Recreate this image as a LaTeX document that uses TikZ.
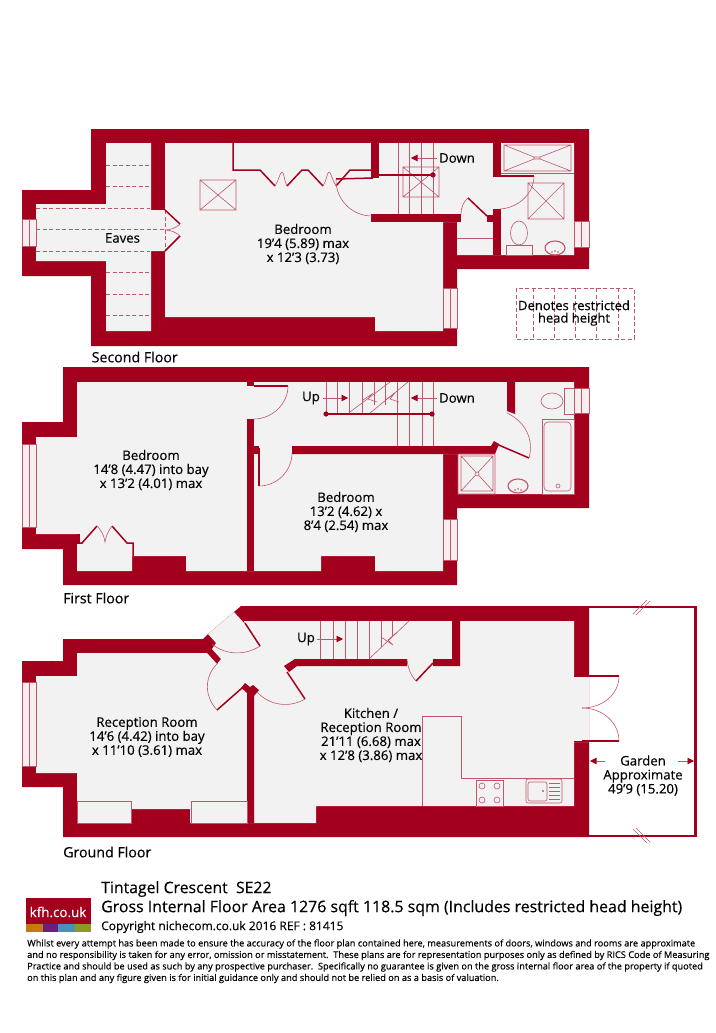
\documentclass[tikz,border=0pt]{standalone}
\usepackage{fontspec}
\setmainfont{Open Sans}[FakeBold=0.3]
\definecolor{wallred}{HTML}{A3001E}
\definecolor{floorgrey}{HTML}{F3F2F2}
\definecolor{fitpink}{HTML}{C0566C}
\definecolor{glasspink}{HTML}{F8EEF0}
\definecolor{bandorange}{HTML}{C8780E}
\definecolor{bandpurple}{HTML}{6B1F7A}
\definecolor{bandblue}{HTML}{4A90B8}
\definecolor{bandolive}{HTML}{8C9A20}
\tikzset{
  wall/.style={fill=wallred, draw=none},
  floorarea/.style={fill=floorgrey, draw=none},
  fitting/.style={draw=fitpink, line width=0.6pt},
  doorleaf/.style={draw=wallred, line width=1.5pt},
  windowpane/.style={fill=glasspink, draw=fitpink, line width=0.5pt},
  eavesline/.style={draw=fitpink, line width=0.7pt, dash pattern=on 4pt off 2.5pt},
  rail/.style={draw=wallred, line width=2.2pt},
  walkarrow/.style={draw=fitpink, line width=0.6pt, -{Triangle[wallred,length=6.5pt,width=6.5pt]}},
  roomtext/.style={font=\fontsize{13.2}{14}\selectfont, text=black, align=center, inner sep=0pt},
  floortext/.style={font=\fontsize{14.2}{16}\selectfont, text=black, anchor=west, inner sep=0pt},
  headtext/.style={anchor=west, inner sep=0pt, text=black},
  smallprint/.style={font=\fontsize{9.22}{11}\selectfont, text=black, anchor=west, inner sep=0pt}
}
\usetikzlibrary{arrows.meta}
\begin{document}
\begin{tikzpicture}[x=1pt,y=-1pt]
\useasboundingbox (0,0) rectangle (715,1033);
\fill[white] (0,0) rectangle (715,1033);
\fill[wall] (91,129) -- (589,129) -- (589,269) -- (457,269) -- (457,346) -- (91,346) -- (91,276) -- (22,276) -- (22,190) -- (91,190) -- cycle;
\fill[floorarea] (36,204) -- (106,204) -- (106,143) -- (151,143) -- (151,210) -- (165,210) -- (165,251) -- (151,251) -- (151,331) -- (106,331) -- (106,261) -- (36,261) -- cycle;
\fill[floorarea] (165,143) -- (574,143) -- (574,255) -- (457,255) -- (457,222) -- (443,222) -- (443,331) -- (375,331) -- (375,317) -- (165,317) -- cycle;
\fill[wall] (371,143) rectangle (379,178);
\fill[wall] (493,143) rectangle (501,176);
\fill[wall] (493,209) rectangle (501,255);
\fill[wall] (371,214) rectangle (461,222);
\fill[wall] (487,215) rectangle (493,222);
\fill[windowpane] (22,219) rectangle (36,246);
\draw[fitting] (29,219) -- (29,246);
\fill[windowpane] (574,221) rectangle (589,247);
\draw[fitting] (581,221) -- (581,247);
\fill[windowpane] (443,288) rectangle (457,328);
\draw[fitting] (450,288) -- (450,328);
\foreach \yy in {165,186,272,294,315} \draw[eavesline] (106,\yy) -- (150,\yy);
\foreach \yy in {208,251} \draw[eavesline] (36,\yy) -- (150,\yy);
\draw[eavesline] (36,229) -- (165,229);
\draw[eavesline] (165,210) -- (165,251);
\draw[doorleaf] (165,210) -- (180,224);
\draw[doorleaf] (165,251) -- (180,236);
\draw[fitting] (180,224) .. controls (176,228) and (170,230) .. (165,230);
\draw[fitting] (180,236) .. controls (176,232) and (170,230) .. (165,230);
\draw[fitting] (200,180) rectangle (236,210) (200,180) -- (236,210) (200,210) -- (236,180);
\draw[doorleaf] (233,143) -- (233,170) -- (260,170) -- (275,186);
\draw[doorleaf] (287,186) -- (302,170) -- (308,170) -- (323,186);
\draw[doorleaf] (336,186) -- (350,170) -- (371,170);
\draw[fitting] (275,186) .. controls (279,180) and (280,172) .. (282,172) .. controls (284,172) and (284,180) .. (287,186);
\draw[fitting] (323,186) .. controls (327,180) and (327,172) .. (329,172) .. controls (331,172) and (332,180) .. (336,186);
\draw[doorleaf] (336,179) -- (373,178);
\draw[fitting] (336,180) arc[start angle=180,end angle=90,radius=36];
\foreach \xx in {398,409,421,433} \draw[fitting] (\xx,143) -- (\xx,214);
\draw[fitting] (403,167) rectangle (439,197) (403,167) -- (439,197) (403,197) -- (439,167);
\draw[rail] (371,175) -- (433,175);
\fill[wallred] (433,175) circle (2.6);
\draw[walkarrow] (437,158) -- (411,158);
\draw[doorleaf] (493,176) -- (534,176);
\draw[fitting] (534,176) .. controls (534,194) and (518,208) .. (500,209);
\draw[doorleaf] (487,216) -- (468,198);
\draw[fitting] (468,198) .. controls (464,201) and (461,207) .. (461,214);
\draw[fitting] (457,238) -- (493,238);
\draw[fitting] (504,145) rectangle (571,171) (504,145) -- (534,157) (504,171) -- (534,159) (571,145) -- (540,157) (571,171) -- (540,159) (534,157) rectangle (540,159);
\draw[fitting] (501,173) -- (574,173);
\draw[fitting] (528,183) rectangle (564,219) (528,183) -- (564,219) (528,219) -- (564,183);
\draw[fitting] (519,233) ellipse (8.5 and 12);
\draw[fitting, fill=floorgrey] (506,245) rectangle (532,255);
\begin{scope}
\clip (540,235) rectangle (572,255);
\draw[draw=fitpink, line width=1.1pt] (555,248) ellipse (10 and 7);
\end{scope}
\fill[fitpink] (552,252) circle (0.8) (555,251) circle (0.8) (558,252) circle (0.8);
\node[roomtext] (EavesText) at (122.5,238) {Eaves};
\node[roomtext] (BedroomTop) at (303,244) {Bedroom\\19'4 (5.89) max\\x 12'3 (3.73)};
\node[roomtext] (DownTop) at (457,158) {Down};
\node[floortext] (SecondFloor) at (91.5,357) {Second Floor};
\draw[eavesline] (516,288) rectangle (634,339);
\foreach \xx in {533,554,575,596,618} \draw[eavesline] (\xx,288) -- (\xx,339);
\node[roomtext, font=\fontsize{13}{12.5}\selectfont] (RestrictedText) at (574,313) {Denotes restricted\\head height};
\fill[wall] (63,367) -- (589,367) -- (589,508) -- (457,508) -- (457,585) -- (63,585) -- (63,549) -- (22,549) -- (22,422) -- (63,422) -- cycle;
\fill[floorarea] (36,437) -- (77,437) -- (77,382) -- (574,382) -- (574,494) -- (458,494) -- (458,454) -- (443,454) -- (443,571) -- (375,571) -- (375,556) -- (321,556) -- (321,571) -- (186,571) -- (186,556) -- (132,556) -- (132,571) -- (77,571) -- (77,534) -- (36,534) -- cycle;
\fill[wall] (247,419) rectangle (254,571);
\fill[wall] (247,382) rectangle (254,386);
\fill[wall] (247,446) rectangle (259,454);
\fill[wall] (292,446) -- (491,446) -- (494,441) -- (499,444) -- (495,454) -- (292,454) -- cycle;
\fill[wall] (507,382) -- (515,382) -- (515,414) -- (507,411) -- cycle;
\fill[wall] (77,534) rectangle (80,543);
\fill[windowpane] (22,444) rectangle (36,527);
\draw[fitting] (29,444) -- (29,527);
\fill[windowpane] (574,388) rectangle (589,413);
\draw[fitting] (581,388) -- (581,413);
\fill[windowpane] (443,519) rectangle (457,560);
\draw[fitting] (450,519) -- (450,560);
\draw[doorleaf] (254,386) -- (288,386);
\draw[fitting] (288,386) .. controls (288,404) and (272,419) .. (254,419);
\draw[doorleaf] (259,448) -- (259,486);
\draw[fitting] (259,486) .. controls (277,486) and (292,471) .. (292,453);
\draw[doorleaf] (494,443) -- (529,458);
\draw[fitting] (529,458) .. controls (534,440) and (526,422) .. (507,413);
\draw[doorleaf] (77,543) -- (82,543) -- (97,526);
\draw[doorleaf] (112,526) -- (127,543) -- (133,543) -- (133,556);
\draw[fitting] (97,526) .. controls (101,530) and (104,535) .. (105,542) .. controls (106,535) and (109,530) .. (112,526);
\foreach \xx in {326,337,349,362} \draw[fitting] (\xx,382) -- (\xx,413);
\foreach \xx in {374,385} \draw[fitting] (\xx,382) -- (\xx,405);
\foreach \xx in {397,409,422,433} \draw[fitting] (\xx,382) -- (\xx,446);
\draw[fitting] (350,412) -- (390,382);
\draw[fitting] (370,413) -- (408,382);
\draw[fitting] (363,400) -- (372,394) -- (368,399) -- (377,402);
\draw[fitting] (385,400) -- (394,394) -- (390,399) -- (399,402);
\draw[rail] (326,414) -- (432,414);
\fill[wallred] (326,414) circle (2.6) (432,414) circle (2.6);
\draw[walkarrow] (323,398) -- (348,398);
\draw[walkarrow] (437,398) -- (411,398);
\draw[fitting] (458,454) rectangle (495,494) (461,456) rectangle (493,491) (461,456) -- (493,491) (461,491) -- (493,456);
\fill[floorgrey] (477,474) circle (2);
\draw[fitting] (477,474) circle (2);
\begin{scope}
\clip (500,470) rectangle (540,494);
\draw[draw=fitpink, line width=1.1pt] (518,486) ellipse (10 and 7);
\end{scope}
\fill[fitpink] (515,490) circle (0.8) (518,489) circle (0.8) (521,490) circle (0.8);
\draw[fitting] (542,419) rectangle (574,494);
\draw[fitting, rounded corners=4pt] (544,422) rectangle (571,491);
\draw[fitting] (558,486) circle (2);
\draw[fitting] (552,401) ellipse (11 and 8);
\draw[fitting, fill=floorgrey] (564,388) rectangle (574,414);
\node[roomtext] (BedroomFront) at (151,470) {Bedroom\\14'8 (4.47) into bay\\x 13'2 (4.01) max};
\node[roomtext] (BedroomBack) at (346,512) {Bedroom\\13'2 (4.62) x\\8'4 (2.54) max};
\node[roomtext] (UpFirst) at (311,398) {Up};
\node[roomtext] (DownFirst) at (457,398) {Down};
\node[floortext] (FirstFloor) at (63,598) {First Floor};
\fill[wall] (63,639) -- (203,639) -- (208,634) -- (234,612) -- (241,606) -- (589,606) -- (589,837) -- (63,837) -- (63,787) -- (22,787) -- (22,661) -- (63,661) -- cycle;
\fill[floorarea] (36,676) -- (77,676) -- (77,653) -- (207,653) -- (217,664) -- (221,659) -- (212,649) -- (216,643) -- (208,634) -- (234,612) -- (245,624) -- (244,621) -- (574,621) -- (574,675) -- (589,675) -- (589,742) -- (574,742) -- (574,806) -- (316,806) -- (316,823) -- (190,823) -- (190,809) -- (131,809) -- (131,823) -- (77,823) -- (77,773) -- (36,773) -- cycle;
\fill[wall] (284,666) -- (295,659) -- (407,659) -- (407,666) -- (297,666) -- (289,672) -- cycle;
\fill[wall] (433,659) -- (452,659) -- (452,621) -- (460,621) -- (460,666) -- (433,666) -- cycle;
\fill[wall] (241,688) -- (245,683) -- (250,687) -- (253,685) -- (259,690) -- (254,696) -- (254,823) -- (247,823) -- (247,693) -- (245,691) -- cycle;
\fill[windowpane] (22,682) rectangle (36,766);
\draw[fitting] (29,682) -- (29,766);
\draw[doorleaf] (245,623) -- (260,646);
\draw[fitting] (260,646) .. controls (245,656) and (225,655) .. (212,644);
\draw[doorleaf] (217,710) -- (242,688);
\draw[fitting] (217,710) .. controls (204,696) and (204,676) .. (218,663);
\draw[doorleaf] (287,672) -- (305,699);
\draw[fitting] (305,699) .. controls (290,708) and (270,706) .. (257,692);
\draw[fitting] (77,801) rectangle (131,823);
\draw[fitting] (191,801) rectangle (247,823);
\foreach \xx in {320,333,345,357} \draw[fitting] (\xx,621) -- (\xx,659);
\draw[fitting] (369,621) -- (369,659);
\draw[fitting] (381,621) -- (381,647);
\draw[fitting] (392,621) -- (392,636);
\draw[fitting] (369,659) -- (409,621);
\draw[fitting] (381,637) -- (393,645) -- (388,640) -- (396,633);
\draw[walkarrow] (317,639) -- (343,639);
\draw[doorleaf] (433,663) -- (416,681);
\draw[fitting] (416,681) .. controls (411,676) and (408,668) .. (407,660);
\draw[doorleaf] (582,676) -- (619,676);
\draw[doorleaf] (582,741) -- (619,741);
\fill[wall] (574,675) rectangle (582,676.5);
\fill[wall] (574,741) rectangle (582,742);
\draw[fitting] (619,676) .. controls (619,694) and (603,708) .. (582,708);
\draw[fitting] (619,741) .. controls (619,723) and (603,708) .. (582,708);
\draw[fitting] (422,806) -- (422,716) -- (461,716) -- (461,778) -- (574,778);
\draw[fitting] (476,780) rectangle (503,806);
\foreach \xx in {482,497} \foreach \yy in {786,800} \draw[fitting] (\xx,\yy) circle (3);
\draw[fitting, rounded corners=2pt] (526,779) rectangle (562,803);
\draw[fitting, rounded corners=2pt] (528,782) rectangle (547,801);
\foreach \yy in {783,787,791,795,799} \draw[fitting, line width=1pt] (549,\yy) -- (560,\yy);
\fill[fitpink] (543,791) circle (1.2);
\draw[draw=wallred, line width=2.4pt] (589,607) -- (695.5,607) -- (695.5,836) -- (589,836);
\draw[fitting] (633,614) -- (647,600) (636,615) -- (650,601);
\draw[fitting] (633,829) -- (647,843) (636,828) -- (650,842);
\draw[walkarrow] (605,761) -- (590,761);
\draw[walkarrow] (678,761) -- (694,761);
\node[roomtext] (ReceptionText) at (147,737) {Reception Room\\14'6 (4.42) into bay\\x 11'10 (3.61) max};
\node[roomtext] (KitchenText) at (371,735) {Kitchen /\\Reception Room\\21'11 (6.68) max\\x 12'8 (3.86) max};
\node[roomtext] (UpGround) at (306,639) {Up};
\node[roomtext] (GardenText) at (643,775.5) {Garden\\Approximate\\49'9 (15.20)};
\node[floortext] (GroundFloor) at (63,852) {Ground Floor};
\fill[wallred] (26,898) rectangle (91,924);
\fill[bandorange] (26,924) rectangle (43,932);
\fill[bandpurple] (43,924) rectangle (58,932);
\fill[bandblue] (58,924) rectangle (75,932);
\fill[bandolive] (75,924) rectangle (91,932);
\node[font=\fontsize{13.4}{15}\selectfont, text=white, inner sep=0pt] (KfhLogo) at (58,912) {kfh.co.uk};
\node[headtext, font=\fontsize{15.8}{18}\selectfont] (AddressText) at (101,889) {Tintagel Crescent\ \ SE22};
\node[headtext, font=\fontsize{15.9}{18}\selectfont] (AreaText) at (101,908) {Gross Internal Floor Area 1276 sqft 118.5 sqm (Includes restricted head height)};
\node[headtext, font=\fontsize{12}{14}\selectfont] (CopyText) at (101,927) {Copyright nichecom.co.uk 2016 REF : 81415};
\node[smallprint] (PrintA) at (27,944) {Whilst every attempt has been made to ensure the accuracy of the floor plan contained here, measurements of doors, windows and rooms are approximate};
\node[smallprint] (PrintB) at (27,955.5) {and no responsibility is taken for any error, omission or misstatement.\ \ These plans are for representation purposes only as defined by RICS Code of Measuring};
\node[smallprint] (PrintC) at (27,967) {Practice and should be used as such by any prospective purchaser.\ \ Specifically no guarantee is given on the gross internal floor area of the property if quoted};
\node[smallprint] (PrintD) at (27,978.5) {on this plan and any figure given is for initial guidance only and should not be relied on as a basis of valuation.};
\end{tikzpicture}
\end{document}
